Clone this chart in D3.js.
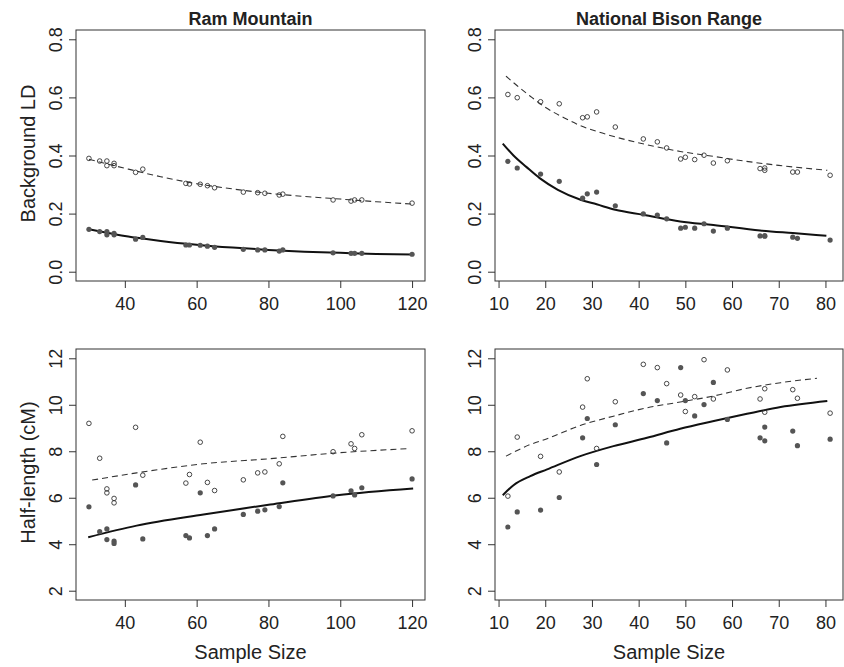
<!DOCTYPE html>
<html lang="en">
<head>
<meta charset="utf-8">
<title>Background LD and half-length vs sample size</title>
<script src="https://d3js.org/d3.v7.min.js"></script>
<style>
  body { margin: 0; background: #fff; }
  text { font-family: "Liberation Sans", Arial, sans-serif; fill: #222; }
</style>
</head>
<body>
<div id="chart"></div>
<script>
// sample sizes (x) for each population
var ramN = [30, 33, 35, 35, 37, 37, 43, 45, 57, 58, 61, 63, 65, 73, 77, 79, 83, 84, 98, 103, 104, 106, 120];
var bisonN = [12, 14, 19, 23, 28, 29, 31, 35, 41, 44, 46, 49, 50, 52, 54, 56, 59, 66, 67, 67, 73, 74, 81];

// background LD (open = upper series, filled = lower series)
var ramLDopen = [0.390, 0.381, 0.381, 0.365, 0.373, 0.365, 0.342, 0.353, 0.304, 0.302, 0.301, 0.296, 0.289, 0.274, 0.272, 0.270, 0.264, 0.267, 0.247, 0.243, 0.247, 0.247, 0.236];
var ramLDfilled = [0.146, 0.138, 0.138, 0.127, 0.132, 0.127, 0.112, 0.118, 0.092, 0.092, 0.091, 0.088, 0.084, 0.077, 0.075, 0.075, 0.071, 0.075, 0.065, 0.063, 0.063, 0.063, 0.060];
var bisonLDopen = [0.610, 0.599, 0.585, 0.578, 0.530, 0.533, 0.550, 0.498, 0.457, 0.447, 0.426, 0.388, 0.394, 0.386, 0.401, 0.374, 0.382, 0.355, 0.357, 0.349, 0.343, 0.343, 0.332];
var bisonLDfilled = [0.380, 0.357, 0.336, 0.311, 0.253, 0.268, 0.274, 0.227, 0.199, 0.195, 0.182, 0.150, 0.153, 0.150, 0.165, 0.140, 0.150, 0.123, 0.124, 0.122, 0.119, 0.115, 0.109];

// half-length in cM
var ramHLopen = [9.20, 7.70, 6.38, 6.21, 5.97, 5.78, 9.03, 6.97, 6.63, 7.00, 8.39, 6.66, 6.31, 6.77, 7.07, 7.11, 7.46, 8.64, 7.98, 8.32, 8.12, 8.71, 8.88];
var ramHLfilled = [5.61, 4.54, 4.66, 4.20, 4.13, 4.03, 6.55, 4.23, 4.37, 4.27, 6.21, 4.37, 4.66, 5.28, 5.42, 5.48, 5.62, 6.64, 6.08, 6.30, 6.12, 6.43, 6.81];
var bisonHLopen = [6.07, 8.61, 7.78, 7.11, 9.90, 11.12, 8.12, 10.13, 11.74, 11.60, 10.91, 10.42, 9.71, 10.35, 11.94, 10.25, 11.50, 10.25, 10.69, 9.68, 10.65, 10.28, 9.64];
var bisonHLfilled = [4.74, 5.39, 5.47, 6.01, 8.58, 9.41, 7.43, 9.14, 10.48, 10.18, 8.36, 11.60, 10.18, 9.52, 10.01, 10.96, 9.37, 8.58, 9.04, 8.45, 8.87, 8.24, 8.52];

// fitted curves: [sample size, value]
var ramLDdashFit = [[30, 0.387], [40, 0.356], [50, 0.327], [60, 0.303], [70, 0.285], [80, 0.270], [90, 0.259], [100, 0.250], [110, 0.241], [120, 0.233]];
var ramLDsolidFit = [[30, 0.146], [35, 0.134], [40, 0.123], [45, 0.114], [50, 0.106], [60, 0.093], [70, 0.083], [80, 0.075], [90, 0.069], [100, 0.065], [110, 0.061], [120, 0.059]];
var bisonLDdashFit = [[11.6, 0.673], [14, 0.640], [16.8, 0.604], [20, 0.566], [24, 0.530], [27.5, 0.503], [31, 0.483], [35, 0.464], [41.8, 0.437], [48.9, 0.414], [56, 0.397], [63, 0.380], [70, 0.366], [80.4, 0.349]];
var bisonLDsolidFit = [[10.9, 0.441], [13.2, 0.400], [16, 0.360], [18.8, 0.322], [22.7, 0.282], [27.7, 0.247], [31, 0.232], [35, 0.213], [41, 0.196], [48.9, 0.173], [56, 0.161], [66, 0.142], [73, 0.133], [80.2, 0.124]];
var ramHLdashFit = [[30.9, 6.76], [43.3, 7.07], [61.9, 7.46], [80.5, 7.68], [99.1, 7.93], [118.6, 8.11]];
var ramHLsolidFit = [[29.8, 4.30], [43.3, 4.80], [61.9, 5.28], [80.5, 5.71], [99.1, 6.11], [120.3, 6.40]];
var bisonHLdashFit = [[11.6, 7.79], [16.8, 8.29], [20.4, 8.54], [27.5, 9.11], [34.6, 9.51], [41.8, 9.87], [48.9, 10.12], [56.1, 10.38], [63.2, 10.71], [70.4, 10.95], [78.2, 11.14]];
var bisonHLsolidFit = [[10.9, 6.11], [13.2, 6.54], [16.8, 6.93], [20.4, 7.22], [27.5, 7.79], [34.6, 8.22], [41.8, 8.58], [48.9, 8.97], [56.1, 9.30], [63.2, 9.61], [70.4, 9.90], [80.4, 10.16]];

// tick values
var ramXTicks = [40, 60, 80, 100, 120];
var bisonXTicks = [10, 20, 30, 40, 50, 60, 70, 80];
var ldTicks = [0, 0.2, 0.4, 0.6, 0.8];
var hlTicks = [2, 4, 6, 8, 10, 12];

var W = 844, H = 667;
var svg = d3.select("#chart").append("svg")
    .attr("width", W)
    .attr("height", H);

// R style: pad the data range by 4% on each side
function padded(lo, hi) {
    var d = (hi - lo) * 0.04;
    return [lo - d, hi + d];
}

function panel(opt) {
    var g = svg.append("g").attr("transform", `translate(${opt.left},${opt.top})`);
    var w = opt.width, h = opt.height;
    var x = d3.scaleLinear().domain(opt.xDomain).range([0, w]);
    var y = d3.scaleLinear().domain(opt.yDomain).range([h, 0]);

    // x axis
    var gx = g.append("g")
        .attr("transform", `translate(0,${h})`)
        .call(d3.axisBottom(x).tickValues(opt.xTicks).tickSize(7).tickPadding(9).tickFormat(d3.format("d")));
    gx.select(".domain").remove();
    gx.selectAll("line").attr("stroke", "#333");
    gx.selectAll("text").attr("font-size", "18px").attr("fill", "#222")
        .attr("font-family", "Liberation Sans, Arial, sans-serif");

    // y axis with rotated labels
    var gy = g.append("g")
        .call(d3.axisLeft(y).tickValues(opt.yTicks).tickSize(7).tickFormat(opt.yFormat));
    gy.select(".domain").remove();
    gy.selectAll("line").attr("stroke", "#333");
    gy.selectAll("text")
        .attr("x", 0).attr("dy", null).attr("y", 0)
        .attr("text-anchor", "middle")
        .attr("transform", "translate(-14,0) rotate(-90)")
        .attr("font-size", "18px").attr("fill", "#222")
        .attr("font-family", "Liberation Sans, Arial, sans-serif");

    // clip marks to the box
    var line = d3.line().x(d => x(d[0])).y(d => y(d[1])).curve(d3.curveMonotoneX);

    g.append("path")
        .datum(opt.dashFit)
        .attr("d", line)
        .attr("fill", "none")
        .attr("stroke", "#333")
        .attr("stroke-width", 1.1)
        .attr("stroke-dasharray", "6,4");

    g.append("path")
        .datum(opt.solidFit)
        .attr("d", line)
        .attr("fill", "none")
        .attr("stroke", "#111")
        .attr("stroke-width", 2);

    g.append("g").selectAll("circle")
        .data(opt.n.map((n, i) => [n, opt.open[i]]))
        .join("circle")
        .attr("cx", d => x(d[0]))
        .attr("cy", d => y(d[1]))
        .attr("r", 2.3)
        .attr("fill", "none")
        .attr("stroke", "#333")
        .attr("stroke-width", 0.9);

    g.append("g").selectAll("circle")
        .data(opt.n.map((n, i) => [n, opt.filled[i]]))
        .join("circle")
        .attr("cx", d => x(d[0]))
        .attr("cy", d => y(d[1]))
        .attr("r", 2.6)
        .attr("fill", "#555");

    // box
    g.append("rect")
        .attr("width", w).attr("height", h)
        .attr("fill", "none")
        .attr("stroke", "#333")
        .attr("stroke-width", 1);

    if (opt.title) {
        g.append("text")
            .attr("x", w / 2).attr("y", -5)
            .attr("text-anchor", "middle")
            .attr("font-size", "18px")
            .attr("font-weight", "bold")
            .text(opt.title);
    }
    if (opt.yLabel) {
        g.append("text")
            .attr("transform", `translate(${-41},${h / 2 - 2}) rotate(-90)`)
            .attr("text-anchor", "middle")
            .attr("font-size", "20px")
            .text(opt.yLabel);
    }
    if (opt.xLabel) {
        g.append("text")
            .attr("x", w / 2).attr("y", h + 59)
            .attr("text-anchor", "middle")
            .attr("font-size", "20px")
            .text(opt.xLabel);
    }
}

var ramX = padded(30, 120), bisonX = padded(12, 81);
var ldY = padded(0, 0.8), hlY = padded(2, 12);
var fmtLD = d3.format(".1f"), fmtHL = d3.format("d");

panel({ left: 76, top: 30, width: 349, height: 251, xDomain: ramX, yDomain: ldY,
    xTicks: ramXTicks, yTicks: ldTicks, yFormat: fmtLD, n: ramN,
    open: ramLDopen, filled: ramLDfilled, dashFit: ramLDdashFit, solidFit: ramLDsolidFit,
    title: "Ram Mountain", yLabel: "Background LD" });

panel({ left: 495, top: 30, width: 348, height: 251, xDomain: bisonX, yDomain: ldY,
    xTicks: bisonXTicks, yTicks: ldTicks, yFormat: fmtLD, n: bisonN,
    open: bisonLDopen, filled: bisonLDfilled, dashFit: bisonLDdashFit, solidFit: bisonLDsolidFit,
    title: "National Bison Range" });

panel({ left: 76, top: 349, width: 349, height: 251, xDomain: ramX, yDomain: hlY,
    xTicks: ramXTicks, yTicks: hlTicks, yFormat: fmtHL, n: ramN,
    open: ramHLopen, filled: ramHLfilled, dashFit: ramHLdashFit, solidFit: ramHLsolidFit,
    yLabel: "Half-length (cM)", xLabel: "Sample Size" });

panel({ left: 495, top: 349, width: 348, height: 251, xDomain: bisonX, yDomain: hlY,
    xTicks: bisonXTicks, yTicks: hlTicks, yFormat: fmtHL, n: bisonN,
    open: bisonHLopen, filled: bisonHLfilled, dashFit: bisonHLdashFit, solidFit: bisonHLsolidFit,
    xLabel: "Sample Size" });
</script>
</body>
</html>
